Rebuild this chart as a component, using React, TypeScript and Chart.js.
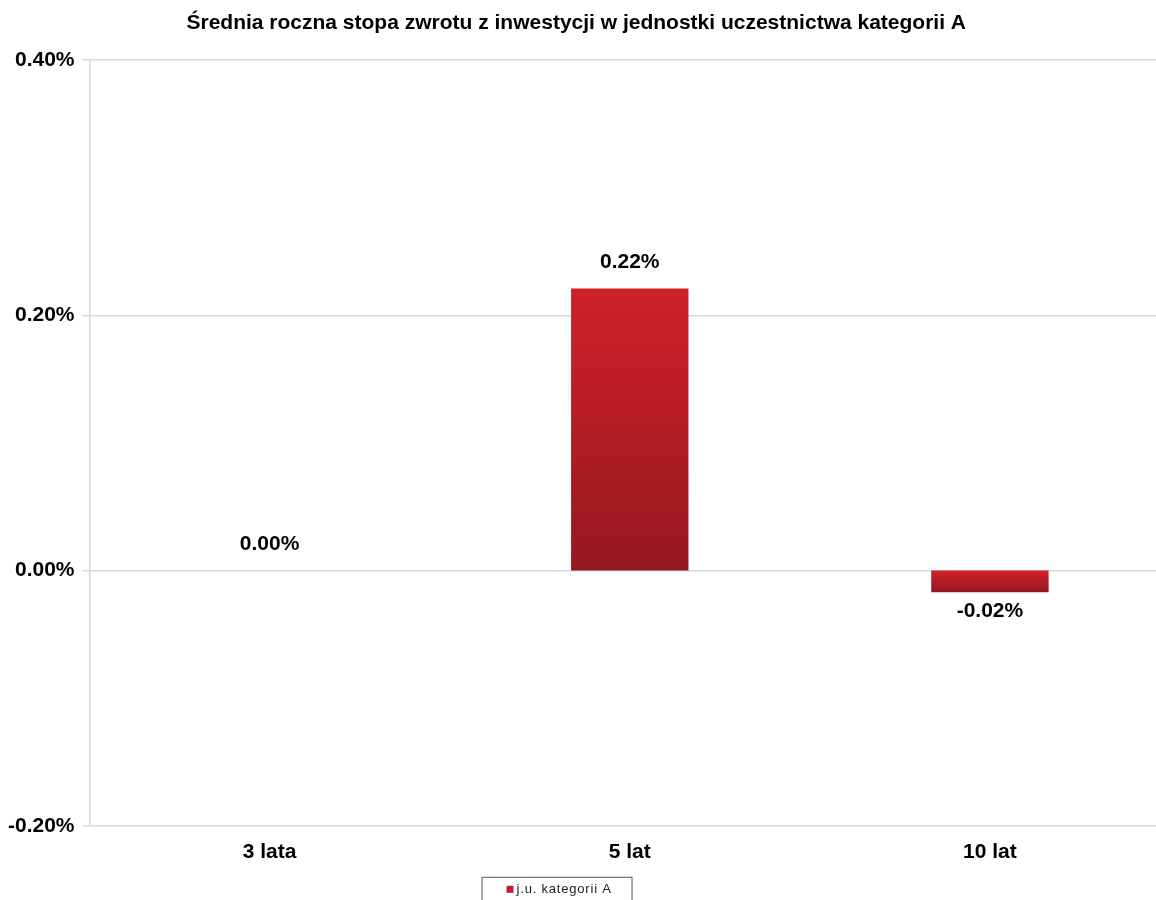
import React, { useEffect, useRef } from "react";
import { Chart, registerables } from "chart.js";

Chart.register(...registerables);

const chartTitle = "Średnia roczna stopa zwrotu z inwestycji w jednostki uczestnictwa kategorii A";
const categories = ["3 lata", "5 lat", "10 lat"];
const values = [0.0, 0.221, -0.017];
const seriesLabel = "j.u. kategorii A";
const yMin = -0.2;
const yMax = 0.4;
const yStep = 0.2;

const FONT = '"Liberation Sans", Arial, sans-serif';
const fmt = (v: number) => (Math.abs(v) < 1e-9 ? 0 : v).toFixed(2) + "%";

const dataLabelPlugin = {
  id: "valueLabels",
  afterDatasetsDraw(chart: any) {
    const ctx = chart.ctx;
    const meta = chart.getDatasetMeta(0);
    const data = chart.data.datasets[0].data as number[];
    ctx.save();
    ctx.font = `bold 21px ${FONT}`;
    ctx.fillStyle = "#000";
    ctx.textAlign = "center";
    ctx.textBaseline = "middle";
    meta.data.forEach((el: any, i: number) => {
      const v = data[i];
      const y = v >= 0 ? el.y - 26 : el.y + 19;
      ctx.fillText(fmt(v), el.x, y);
    });
    ctx.restore();
  },
};

const boxLegendPlugin = {
  id: "boxLegend",
  afterDraw(chart: any) {
    const ctx = chart.ctx;
    const area = chart.chartArea;
    const left = area.left + 392;
    const top = area.bottom + 51;
    const w = 150;
    const h = 30;
    ctx.save();
    ctx.strokeStyle = "#555";
    ctx.lineWidth = 1;
    ctx.strokeRect(left + 0.5, top + 0.5, w, h);
    ctx.fillStyle = "#c0202a";
    ctx.fillRect(left + 25, top + 9, 7, 7);
    ctx.font = `13px ${FONT}`;
    (ctx as any).letterSpacing = "0.8px";
    ctx.fillStyle = "#222";
    ctx.textAlign = "left";
    ctx.textBaseline = "middle";
    ctx.fillText(seriesLabel, left + 35, top + 13);
    ctx.restore();
  },
};

export default function App() {
  const ref = useRef<HTMLCanvasElement | null>(null);

  useEffect(() => {
    if (!ref.current) return;
    const chart = new Chart(ref.current, {
      type: "bar",
      data: {
        labels: categories,
        datasets: [
          {
            label: seriesLabel,
            data: values,
            barPercentage: 0.326,
            categoryPercentage: 1,
            backgroundColor: (c: any) => {
              const ch = c.chart;
              if (!ch.chartArea || c.type !== "data") return "#c0202a";
              const ys = ch.scales.y;
              const y0 = ys.getPixelForValue(0);
              const y1 = ys.getPixelForValue(c.raw);
              const top = Math.min(y0, y1);
              const bot = Math.max(y0, y1);
              if (bot - top < 1) return "#c0202a";
              const g = ch.ctx.createLinearGradient(0, top, 0, bot);
              g.addColorStop(0, "#d02129");
              g.addColorStop(1, "#951820");
              return g;
            },
            borderWidth: 0,
          },
        ],
      },
      options: {
        responsive: false,
        animation: false,
        devicePixelRatio: 1,
        layout: { padding: { left: 0, right: 0, top: 0, bottom: 29 } },
        plugins: {
          legend: { display: false },
          tooltip: { enabled: false },
          title: {
            display: true,
            text: chartTitle + "\u00A0\u00A0\u00A0",
            color: "#000",
            font: { family: FONT, size: 21, weight: "bold" },
            padding: { top: 11, bottom: 24 },
          },
        },
        scales: {
          x: {
            grid: { display: false },
            border: { display: false },
            ticks: {
              color: "#000",
              font: { family: FONT, size: 21, weight: "bold" },
              padding: 6,
            },
          },
          y: {
            min: yMin,
            max: yMax,
            grid: { color: "#d9d9d9", lineWidth: 1.5, tickLength: 7 },
            border: { display: true, color: "#d9d9d9", width: 1.5 },
            ticks: {
              stepSize: yStep,
              color: "#000",
              font: { family: FONT, size: 21, weight: "bold" },
              padding: 8,
              callback: (v: any) => fmt(Number(v)),
            },
          },
        },
      },
      plugins: [dataLabelPlugin, boxLegendPlugin],
    });
    return () => chart.destroy();
  }, []);

  return (
    <div style={{ position: "fixed", left: 0, top: 0, width: 1170, height: 900, background: "#fff" }}>
      <canvas ref={ref} width={1170} height={900} />
    </div>
  );
}
